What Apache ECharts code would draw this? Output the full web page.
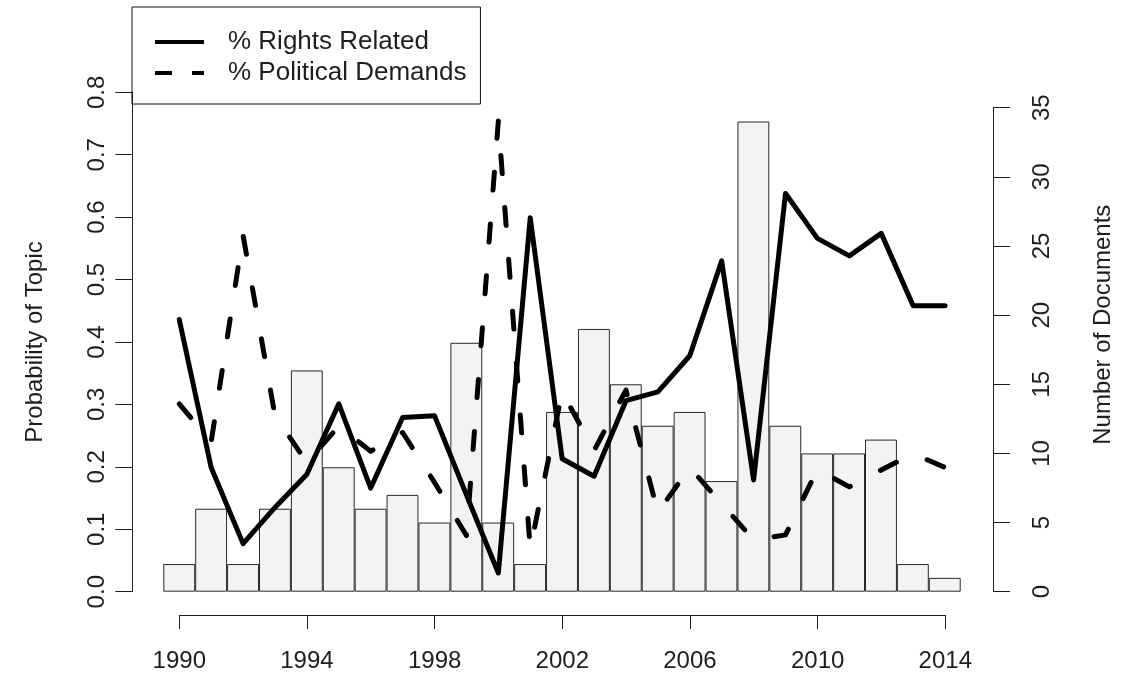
<!DOCTYPE html>
<html>
<head>
<meta charset="utf-8">
<script src="https://cdn.jsdelivr.net/npm/echarts@6/dist/echarts.min.js"></script>
<style>
  html, body { margin: 0; padding: 0; background: #fff; }
  #chart { width: 1123px; height: 681px; }
</style>
</head>
<body>
<div id="chart"></div>
<script>
// data
const years = [1990, 1991, 1992, 1993, 1994, 1995, 1996, 1997, 1998, 1999, 2000, 2001,
               2002, 2003, 2004, 2005, 2006, 2007, 2008, 2009, 2010, 2011, 2012, 2013, 2014];
const docCounts = [2, 6, 2, 6, 16, 9, 6, 7, 5, 18, 5, 2, 13, 19, 15, 12, 13, 8, 34, 12, 10, 10, 11, 2, 1];
const rightsRelated = [0.436, 0.199, 0.077, 0.135, 0.188, 0.301, 0.166, 0.279, 0.282, 0.155, 0.030, 0.599,
                       0.213, 0.185, 0.306, 0.320, 0.378, 0.530, 0.179, 0.638, 0.566, 0.538, 0.574, 0.458, 0.458];
const politicalDemands = [0.301, 0.240, 0.571, 0.282, 0.207, 0.265, 0.225, 0.255, 0.175, 0.090, 0.754, 0.069,
                          0.320, 0.226, 0.323, 0.127, 0.199, 0.141, 0.083, 0.091, 0.196, 0.168, 0.195, 0.221, 0.199];
const seriesNames = ['% Rights Related', '% Political Demands'];
const leftTicks = { min: 0, max: 0.8, step: 0.1 };
const rightTicks = { min: 0, max: 35, step: 5 };
const yearTicks = { min: 1990, max: 2014, step: 4 };

const font = '"Liberation Sans", Arial, Helvetica, sans-serif';
const ink = '#1e1e1e';

let myChart = echarts.init(document.getElementById('chart'), null, { renderer: 'canvas' });

const pair = (v, i) => [years[i], v];

let option = {
    animation: false,
    backgroundColor: '#fff',
    textStyle: { fontFamily: font, color: ink },
    legend: {
        orient: 'vertical',
        left: 132, top: 7,
        padding: [22, 14, 18, 21],
        itemGap: 5,
        itemWidth: 49,
        itemHeight: 26,
        borderColor: '#111', borderWidth: 1,
        // hide the symbol that the line legend icon carries, keep only the line
        itemStyle: { color: 'rgba(0,0,0,0)', borderColor: 'rgba(0,0,0,0)', borderWidth: 0 },
        lineStyle: { color: '#000', width: 4 },
        textStyle: { fontSize: 26, color: ink, fontFamily: font, padding: [0, 0, 0, 19] },
        data: [
            { name: seriesNames[0], lineStyle: { type: 'solid', width: 4, cap: 'butt' } },
            { name: seriesNames[1], lineStyle: { type: [17, 20], width: 4, cap: 'butt' } }
        ]
    },
    grid: [
        // lines (left axis)
        { left: 163.3, right: 162, top: 92.3, bottom: 89.3 },
        // bars (right axis)
        { left: 163.3, right: 162, top: 107.7, bottom: 89.3 },
        // the detached year axis underneath
        { left: 179.3, right: 177.7, top: 614, height: 1 }
    ],
    xAxis: [
        { gridIndex: 0, type: 'value', min: 1989.5, max: 2014.5, show: false },
        { gridIndex: 1, type: 'value', min: 1989.5, max: 2014.5, show: false },
        {
            gridIndex: 2, type: 'value', position: 'bottom',
            min: yearTicks.min, max: yearTicks.max, interval: yearTicks.step,
            axisLine: { show: true, lineStyle: { color: ink, width: 1 } },
            axisTick: { show: true, length: 14, lineStyle: { color: ink, width: 1 } },
            axisLabel: { fontSize: 24, color: ink, fontFamily: font, margin: 34, formatter: v => String(v) },
            splitLine: { show: false }
        }
    ],
    yAxis: [
        {
            gridIndex: 0, type: 'value', position: 'left', offset: 31,
            min: leftTicks.min, max: leftTicks.max, interval: leftTicks.step,
            name: 'Probability of Topic', nameLocation: 'middle', nameRotate: 90, nameGap: 85,
            nameTextStyle: { fontSize: 24, color: ink, fontFamily: font },
            axisLine: { show: true, lineStyle: { color: ink, width: 1 } },
            axisTick: { show: true, length: 17, lineStyle: { color: ink, width: 1 } },
            axisLabel: { rotate: 90, fontSize: 24, color: ink, fontFamily: font, margin: 23,
                         formatter: v => v.toFixed(1) },
            splitLine: { show: false }
        },
        {
            gridIndex: 1, type: 'value', position: 'right', offset: 32.3,
            min: rightTicks.min, max: rightTicks.max, interval: rightTicks.step,
            name: 'Number of Documents', nameLocation: 'middle', nameRotate: 90, nameGap: 98,
            // nudge the title up, the original sits a bit above the axis middle
            nameTextStyle: { fontSize: 24, color: ink, fontFamily: font, padding: [0, 0, 0, 50] },
            axisLine: { show: true, lineStyle: { color: ink, width: 1 } },
            axisTick: { show: true, length: 17, lineStyle: { color: ink, width: 1 } },
            axisLabel: { rotate: 90, fontSize: 24, color: ink, fontFamily: font, margin: 37 },
            splitLine: { show: false }
        },
        { gridIndex: 2, type: 'value', show: false, min: 0, max: 1 }
    ],
    series: [
        {
            name: 'Documents', type: 'bar',
            xAxisIndex: 1, yAxisIndex: 1,
            barWidth: '100%',
            itemStyle: { color: '#f3f3f3', borderColor: '#2a2a2a', borderWidth: 1 },
            data: docCounts.map(pair),
            z: 1
        },
        {
            name: seriesNames[0], type: 'line',
            xAxisIndex: 0, yAxisIndex: 0,
            symbol: 'none',
            lineStyle: { color: '#000', width: 5, join: 'round', cap: 'round' },
            itemStyle: { color: '#000' },
            data: rightsRelated.map(pair),
            z: 3
        },
        {
            name: seriesNames[1], type: 'line',
            xAxisIndex: 0, yAxisIndex: 0,
            symbol: 'none',
            lineStyle: { color: '#000', width: 5, type: [18, 34], join: 'round', cap: 'round' },
            itemStyle: { color: '#000' },
            data: politicalDemands.map(pair),
            z: 3
        }
    ]
};

myChart.setOption(option);
</script>
</body>
</html>
